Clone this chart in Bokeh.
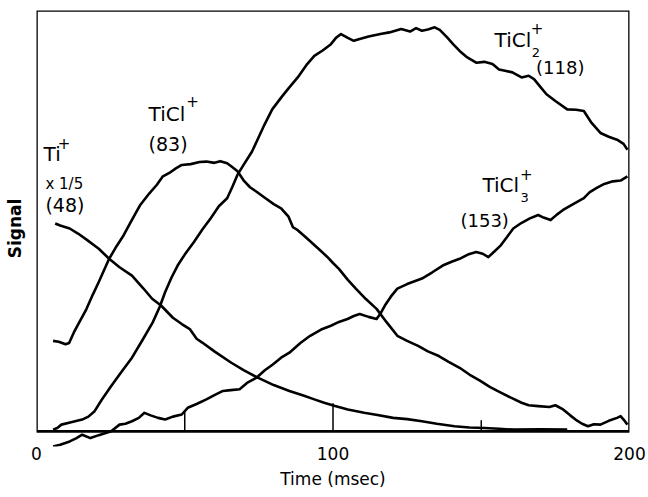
import math
from bokeh.plotting import figure
from bokeh.models import FixedTicker, BoxAnnotation, Label, Range1d
from bokeh.embed import file_html
from bokeh.resources import INLINE

# ---- data (time in msec, signal in arbitrary units) ----
ti_t = [6.3, 8, 11.2, 14, 17, 21, 24.5, 28, 32.2, 36, 39, 42, 46, 49, 51.7, 54, 55.9, 60, 65.7, 70,
        74.8, 80, 85.3, 90, 93.7, 97, 100.7, 105, 110.5, 115, 120.3, 125, 130, 135, 141, 146, 151,
        156, 161, 170, 179]
ti_v = [49.4, 48.9, 48.2, 47, 45.5, 43.4, 41, 39, 37, 34, 31.5, 29.9, 27, 25.5, 24.3, 22, 21.1, 19,
        16.3, 14.5, 12.7, 11, 9.6, 8.5, 7.6, 6.8, 6, 5.2, 4.4, 3.9, 3.2, 2.9, 2.4, 1.8, 1.2, 0.9,
        0.8, 0.6, 0.4, 0.5, 0.4]

ticl_t = [5.6, 7.5, 9.8, 11, 12.6, 14.5, 16.8, 19, 21, 24.5, 27, 29.4, 32, 35, 38, 40.6, 42.5, 44.8,
          47, 49, 52, 55, 57.3, 60, 62, 64.3, 66, 67.8, 70, 72, 74.1, 77, 80, 82.5, 85, 86.5, 88.1,
          91, 95.1, 98, 100, 102, 105, 107.7, 111, 114.7, 118, 121.7, 125, 128.7, 132, 135.7, 139,
          142.7, 146, 149.7, 153, 156.6, 160, 163.6, 166, 169.2, 173, 175, 177.6, 180, 181.8, 184,
          186, 188, 190.2, 193, 195.8, 197, 198, 199.3]
ticl_v = [21.5, 21.3, 20.7, 21, 23.5, 26, 29, 32.5, 35.5, 41, 44, 46.6, 50, 53.8, 56.5, 58.6, 60.5,
          61.4, 62.5, 63.3, 63.5, 64, 64.1, 63.8, 64.2, 63.7, 62.8, 61.8, 59.5, 58, 57, 55.5, 54, 53,
          51, 48.5, 47.8, 46, 43.4, 41.5, 40, 38.6, 36, 33.9, 31.5, 29.1, 26, 22.7, 21.5, 20.3, 19,
          17.9, 16.5, 15.1, 13.5, 12, 10.5, 9.2, 8, 6.8, 6.2, 6, 5.8, 6.2, 5.2, 3.8, 2.8, 1.8, 1.2,
          1.7, 1.6, 2.5, 3.2, 3.6, 2.8, 1.6]

ticl2_t = [5.6, 7, 8.4, 12, 15.4, 17.5, 19.6, 22, 25.2, 28.5, 32.2, 36, 39.2, 41.5, 43.4, 45.5, 47.6,
           50, 53.1, 56, 58.7, 61.5, 64.3, 66, 67.8, 70, 72.7, 75, 76.9, 79.5, 82.5, 85, 88.1, 91,
           93.7, 96.5, 99.3, 101, 102.7, 105, 107, 109, 112, 116, 119, 123, 126, 128, 130, 132,
           134.3, 136, 138.5, 140.5, 142.7, 145, 148.3, 151, 153.8, 156, 158, 160.5, 163.6, 166,
           167.8, 170, 172, 175, 179, 182, 184.6, 187, 190.2, 193, 195.8, 198, 199.3]
ticl2_v = [0.4, 0.8, 1.6, 2.2, 2.8, 3.5, 4.8, 7.5, 10.8, 14, 17.5, 22, 25.9, 29.5, 33.1, 36.5, 39.4,
           42, 45, 48, 50.6, 53.5, 55.4, 58, 61, 63.5, 66.5, 70, 72.9, 76.5, 79.3, 81.5, 84.1, 87,
           89.2, 90.5, 92, 93.5, 94.4, 93.5, 92.8, 93.2, 93.8, 94.4, 94.8, 95.6, 95, 95.8, 95.2,
           95.5, 96, 95.4, 93.6, 92, 90.4, 89, 87.6, 87.8, 87.3, 86, 85.7, 85.3, 84.1, 84.5, 83.7,
           81.8, 80.1, 78.5, 76.5, 76.4, 76.1, 73.5, 70.9, 70, 69.3, 68.3, 66.9]

ticl3_t = [5.6, 8, 11.2, 13.5, 15.4, 18.2, 21, 25.2, 28, 30, 32.2, 34.5, 36.4, 38.5, 41, 43.4, 46,
           49, 51, 54, 57.3, 60, 62.9, 65.5, 68.5, 71, 74.1, 77, 79.7, 82.5, 85.3, 89, 92.3, 96,
           99.3, 102, 104.9, 107, 109, 112, 114.7, 116, 117.5, 119.5, 121.7, 125, 130, 133.5, 137,
           140, 142.7, 145.5, 148.3, 150.5, 152.4, 154.5, 156.6, 158.5, 160.8, 163.5, 166.4, 169.2,
           171, 173.4, 175.5, 177.6, 181, 184.6, 186.5, 188.8, 191.5, 194.4, 197, 199.3]
ticl3_v = [-3.6, -3.2, -2.4, -1.6, -0.8, -1.6, -0.9, 0, 1.6, 1.8, 2.4, 3.2, 4.4, 3.8, 3.2, 2.8, 3.5,
           4, 5.6, 6.5, 7.6, 8.6, 9.6, 9.8, 10, 11.5, 12.7, 14.5, 15.9, 17.5, 18.7, 21, 22.7, 24.2,
           25.1, 26, 26.7, 27.4, 27.9, 27.2, 26.7, 28, 29.9, 32, 33.9, 35, 36.3, 37.8, 39.4, 40.3,
           41, 42, 42.6, 42.2, 41.4, 42.8, 44.2, 46, 48.2, 49.5, 50.6, 51.4, 50.8, 50.2, 51.5, 52.6,
           54, 55.4, 56.8, 57.8, 58.8, 59.4, 59.6, 60.6]

x_tick_values = [0, 100, 200]
frame_marks = [50, 100, 150]

FONT = "DejaVu Sans"

p = figure(width=648, height=497, output_backend="svg", toolbar_location=None,
           x_range=Range1d(0, 200), y_range=Range1d(-3.6, 100),
           min_border_left=36, min_border_right=19, min_border_top=10, min_border_bottom=51)
p.outline_line_color = None
p.grid.visible = False
p.background_fill_color = "white"
p.border_fill_color = "white"

for t, v in [(ti_t, ti_v), (ticl_t, ticl_v), (ticl2_t, ticl2_v), (ticl3_t, ticl3_v)]:
    p.line(t, v, line_color="black", line_width=2.6, line_join="round")

# frame box (bottom edge at signal = 0)
p.add_layout(BoxAnnotation(bottom=0, fill_color=None, fill_alpha=0,
                           line_color="black", line_alpha=1.0, line_width=2.6))

# short inner marks standing on the zero line
p.ray(x=frame_marks, y=0, length=[20, 28, 11], length_units="screen",
      angle=math.pi / 2, line_color="black", line_width=1.5)

# x axis: labels only
xa = p.xaxis[0]
xa.ticker = FixedTicker(ticks=x_tick_values)
xa.axis_line_color = None
xa.major_tick_line_color = None
xa.major_tick_out = 0
xa.major_tick_in = 0
xa.minor_tick_line_color = None
xa.major_label_standoff = 0
xa.major_label_text_font = FONT
xa.major_label_text_font_size = "17px"
xa.major_label_text_color = "black"
xa.axis_label = "Time (msec)"
xa.axis_label_text_font = FONT
xa.axis_label_text_font_size = "17px"
xa.axis_label_text_font_style = "normal"
xa.axis_label_text_color = "black"
xa.axis_label_standoff = 6

ya = p.yaxis[0]
ya.ticker = FixedTicker(ticks=[])
ya.axis_line_color = None
ya.major_tick_line_color = None
ya.major_tick_out = 0
ya.major_tick_in = 0
ya.minor_tick_line_color = None
ya.axis_label = "Signal"
ya.axis_label_text_font = FONT
ya.axis_label_text_font_size = "17px"
ya.axis_label_text_font_style = "bold"
ya.axis_label_text_color = "black"
ya.axis_label_standoff = 12

def lab(x, y, text, size="19px", align="left"):
    p.add_layout(Label(x=x, y=y, text=text, text_font=FONT, text_font_size=size,
                       text_color="black", text_align=align, text_baseline="middle"))

# Ti+
lab(2.4, 66, "Ti", "20px")
lab(9.3, 68.6, "+", "15px", "center")
lab(3.0, 58.8, "x 1/5", "15px")
lab(3.0, 53.9, "(48)")
# TiCl+
lab(37.8, 75.5, "TiCl", "20px")
lab(52.6, 78.6, "+", "15px", "center")
lab(37.8, 68.3, "(83)")
# TiCl2+
lab(154.5, 93.0, "TiCl", "20px")
lab(167.0, 90.0, "2", "13px")
lab(168.8, 95.8, "+", "15px", "center")
lab(168.5, 86.4, "(118)", "18px")
# TiCl3+
lab(150.4, 58.5, "TiCl", "20px")
lab(163.2, 55.6, "3", "13px")
lab(165.2, 61.2, "+", "15px", "center")
lab(143.0, 50.2, "(153)", "18px")

open("out.html", "w").write(file_html(p, INLINE))
